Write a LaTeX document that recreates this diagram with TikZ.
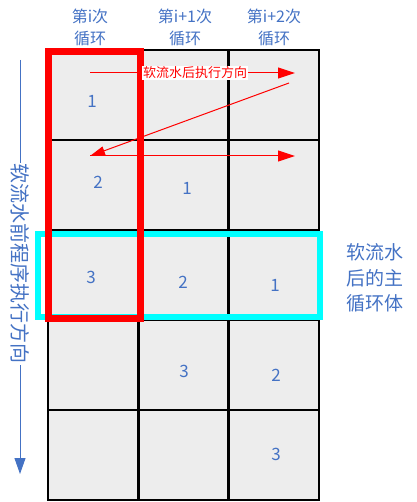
\documentclass[tikz,border=0pt]{standalone}
\usepackage{fontspec}
\setmainfont{Noto Sans CJK SC}
\usetikzlibrary{arrows.meta}
\definecolor{txtblue}{HTML}{4472C4}
\definecolor{cellgray}{HTML}{EDEDED}
\definecolor{cyanbox}{HTML}{00FFFF}
\definecolor{redbox}{HTML}{FF0000}
\begin{document}
\begin{tikzpicture}[x=1pt,y=-1pt,
  cell/.style={draw=black,line width=2.6pt,fill=cellgray,minimum width=90.33pt,minimum height=90pt,inner sep=0pt,outer sep=0pt,anchor=north west},
  num/.style={text=txtblue,font=\fontsize{17}{17}\selectfont,inner sep=0pt},
  head/.style={text=txtblue,font=\fontsize{16}{22}\selectfont,align=center,inner sep=0pt},
  sidetext/.style={text=txtblue,font=\fontsize{19}{25.5}\selectfont,align=center,inner sep=0pt},
  frame/.style={line width=#1,inner sep=0pt,outer sep=0pt,anchor=north west},
  redarrow/.style={draw=redbox,line width=1pt,-{Triangle[length=17pt,width=11pt]}},
  redarrowsmall/.style={draw=redbox,line width=1pt,-{Triangle[length=15pt,width=9pt]}},
  bluearrow/.style={draw=txtblue,line width=1pt,-{Triangle[length=16pt,width=11pt]}}]
\useasboundingbox (0,0) rectangle (416,502);
% cells
\foreach \r in {1,...,5}{
  \foreach \c in {1,2,3}{
    \node[cell] (c\r\c) at ({48+(\c-1)*90.33},{50+(\r-1)*90}) {};
  }
}
% numbers
\node[num] (n11) at (92,101) {1};
\node[num] (n21) at (98,182) {2};
\node[num] (n22) at (187,188) {1};
\node[num] (n31) at (91,277) {3};
\node[num] (n32) at (183,282) {2};
\node[num] (n33) at (275,285) {1};
\node[num] (n42) at (184,371) {3};
\node[num] (n43) at (276,375) {2};
\node[num] (n53) at (276,454) {3};
% headers
\node[head] (h1) at (90,27) {第i次\\循环};
\node[head] (h2) at (185,27) {第i+1次\\循环};
\node[head] (h3) at (274,27) {第i+2次\\循环};
% highlight frames
\node[frame=6pt,draw=cyanbox,minimum width=281.5pt,minimum height=83pt] (cyanframe) at (38,234) {};
\node[frame=7pt,draw=redbox,minimum width=91.5pt,minimum height=266pt] (redframe) at (48.5,52) {};
% red arrows
\coordinate (ra1) at (90,73);
\coordinate (ra2) at (295,73);
\coordinate (rb1) at (289,83);
\coordinate (rb2) at (90,156);
\coordinate (rc2) at (295,156);
\draw[redarrow] (ra1) -- (ra2);
\node[fill=white,text=redbox,font=\fontsize{13}{13}\selectfont,inner sep=1pt] (rlbl) at (195,73) {软流水后执行方向};
\draw[redarrowsmall] (rb1) -- (rb2);
\draw[redarrow] (rb2) -- (rc2);
% left arrow
\coordinate (vtop) at (20,60);
\coordinate (vbot) at (20,474);
\draw[bluearrow] (vtop) -- (vbot);
\node[rotate=-90,fill=white,text=txtblue,font=\fontsize{20}{20}\selectfont,inner sep=1pt] (vlbl) at (20,264) {软流水前程序执行方向};
% right text
\node[sidetext] (rtext) at (375,278) {软流水\\后的主\\循环体};
\end{tikzpicture}
\end{document}
